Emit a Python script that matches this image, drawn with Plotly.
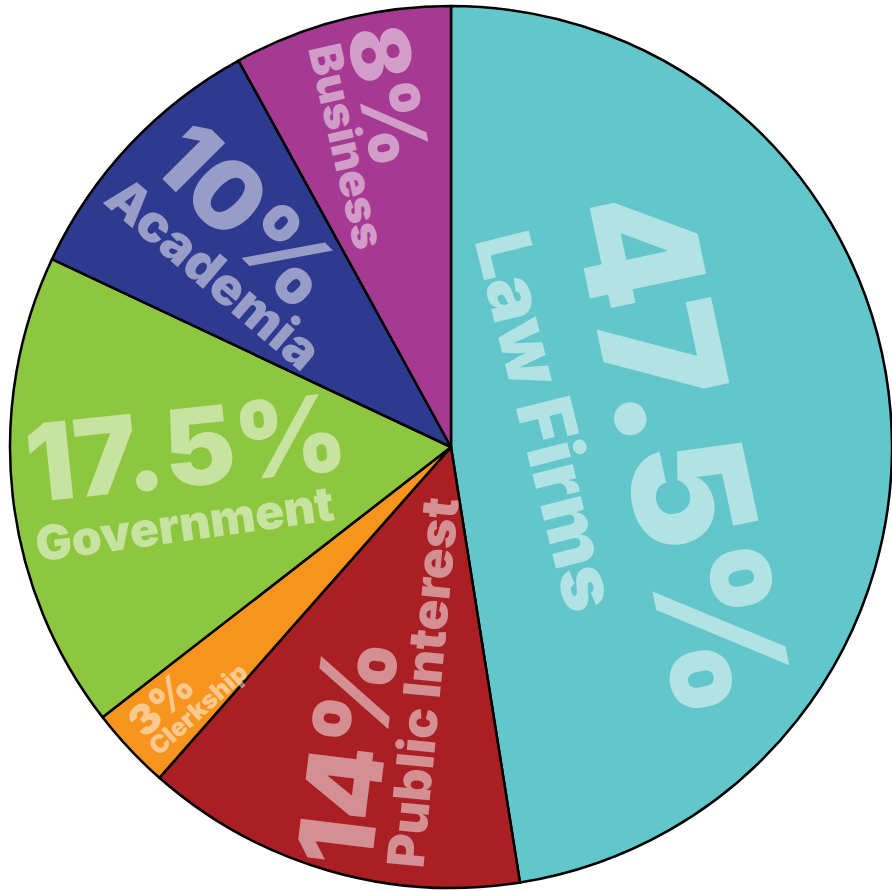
import plotly.graph_objects as go

# ---- data ----
categories = ["Law Firms", "Public Interest", "Clerkship", "Government", "Academia", "Business"]
percent_values = [47.5, 14, 3, 17.5, 10, 8]
percent_labels = ["47.5%", "14%", "3%", "17.5%", "10%", "8%"]

# ---- styles ----
slice_colors = ["#62C6CA", "#A91F24", "#F7941E", "#8DC63F", "#2E3A8F", "#A63A93"]
text_color = "rgba(255,255,255,0.5)"
FONT = "Inter"
W, H = 892, 891

# label placement (pixel centre x, y, rotation, font size) for percent line and name line
pct_layout = [
    (684, 452, 78, 163),
    (347, 752, -83, 104),
    (160, 703, -44, 42),
    (186, 447, -6, 107),
    (248, 215, 45, 96),
    (388, 95, 79, 82),
]
name_layout = [
    (548, 421, 76, 76),
    (422, 683, -84.5, 51),
    (198, 709, -42, 25),
    (184, 523, -8, 48),
    (214, 273, 40.5, 52),
    (348, 146, 77, 45),
]

fig = go.Figure(
    go.Pie(
        labels=categories,
        values=percent_values,
        sort=False,
        direction="clockwise",
        rotation=0,
        marker=dict(colors=slice_colors, line=dict(color="#000000", width=2.5)),
        textinfo="none",
        hoverinfo="label+value",
        showlegend=False,
        domain=dict(x=[10 / W, 1.0], y=[3 / H, 1 - 6 / H]),
    )
)

annotations = []
for lab, (x, y, ang, size) in list(zip(percent_labels, pct_layout)) + list(zip(categories, name_layout)):
    annotations.append(dict(
        x=x / W, y=1 - y / H, xref="paper", yref="paper",
        text=lab, showarrow=False, textangle=ang,
        xanchor="center", yanchor="middle",
        font=dict(family=FONT, size=size, color=text_color, weight=900),
    ))

fig.update_layout(
    width=W, height=H,
    margin=dict(l=0, r=0, t=0, b=0),
    paper_bgcolor="white", plot_bgcolor="white",
    annotations=annotations,
)

fig.write_html(
    "out.html",
    config={"displayModeBar": False},
    post_script="document.body.style.margin='0';document.body.style.padding='0';",
)
